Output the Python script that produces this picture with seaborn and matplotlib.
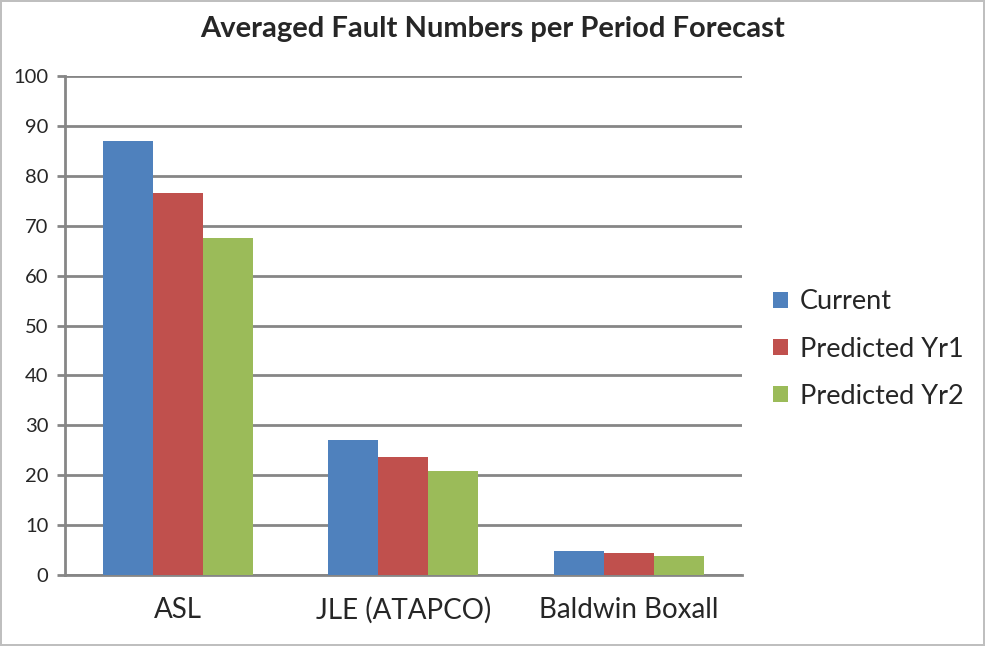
import pandas as pd
import matplotlib
matplotlib.use('Agg')
import matplotlib.pyplot as plt
import seaborn as sns

# --- Data ---
sites = ['ASL', 'JLE (ATAPCO)', 'Baldwin Boxall']
series = ['Current', 'Predicted Yr1', 'Predicted Yr2']
current = [87.0, 27.0, 4.9]
predicted_yr1 = [76.5, 23.6, 4.3]
predicted_yr2 = [67.5, 20.8, 3.7]
colors = ['#4F81BD', '#C0504D', '#9BBB59']

df = pd.DataFrame({
    'site': sites * 3,
    'series': [s for s in series for _ in sites],
    'faults': current + predicted_yr1 + predicted_yr2,
})

sns.set_theme(style="white")
plt.rcParams['font.family'] = ['Lato', 'DejaVu Sans']

fig = plt.figure(figsize=(9.85, 6.46), dpi=100)
fig.patch.set_edgecolor('#BFBFBF')
fig.patch.set_linewidth(1.5)
ax = fig.add_axes([0.066, 0.110, 0.687, 0.772])

sns.barplot(data=df, x='site', y='faults', hue='series', palette=colors,
            width=0.665, saturation=1, linewidth=0, ax=ax, zorder=3)

ax.set_ylim(0, 100)
ax.set_yticks(range(0, 101, 10))
ax.grid(axis='y', color='#868686', linewidth=2, zorder=0)
ax.set_axisbelow(True)
for side in ['top', 'right']:
    ax.spines[side].set_visible(False)
for side in ['left', 'bottom']:
    ax.spines[side].set_color('#868686')
    ax.spines[side].set_linewidth(2)
ax.tick_params(axis='y', left=True, length=6, width=2, color='#868686',
               labelsize=14.5, pad=6)
ax.tick_params(axis='x', bottom=False, labelsize=20, pad=10)
ax.set_xlabel('')
ax.set_ylabel('')

fig.suptitle('Averaged Fault Numbers per Period Forecast', fontsize=21,
             fontweight='bold', x=0.5, y=0.975)

handles, labels = ax.get_legend_handles_labels()
ax.legend(handles, labels, loc='center left', bbox_to_anchor=(1.03, 0.453),
          borderaxespad=0, frameon=False, fontsize=19.5,
          handlelength=0.55, handleheight=0.55,
          handletextpad=0.45, labelspacing=0.82)

fig.savefig('out.png', dpi=100)
